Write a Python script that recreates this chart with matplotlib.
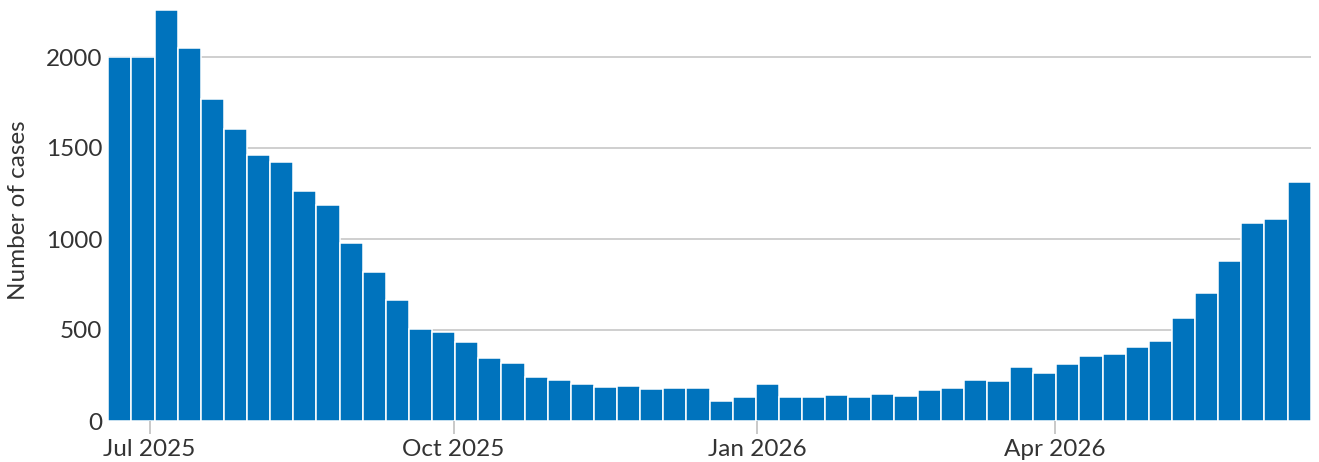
import matplotlib
matplotlib.use("Agg")
import matplotlib.pyplot as plt
import matplotlib.dates as mdates
import numpy as np
import datetime as dt

week_start = "2025-06-22"  # first week (Sunday centre)
cases = [2000, 2000, 2258, 2051, 1769, 1604, 1460, 1421, 1265, 1187,
         976, 817, 667, 507, 487, 432, 346, 319, 244, 223,
         201, 187, 190, 178, 183, 183, 108, 134, 203, 134,
         130, 141, 134, 147, 137, 170, 180, 225, 221, 297,
         264, 313, 355, 370, 408, 441, 564, 702, 881, 1090,
         1110, 1315]
tick_dates = ["2025-07-01", "2025-10-01", "2026-01-01", "2026-04-01"]
tick_labels = ["Jul 2025", "Oct 2025", "Jan 2026", "Apr 2026"]
y_ticks = [0, 500, 1000, 1500, 2000]
y_label = "Number of cases"

plt.rcParams['font.family'] = ['Lato', 'DejaVu Sans']

W, H = 1319, 462
fig = plt.figure(figsize=(W / 100, H / 100), dpi=100)
left_px, right_px, bottom_px, top_px = 108, 1311, 421, 0
ax = fig.add_axes([left_px / W, (H - bottom_px) / H,
                   (right_px - left_px) / W, (bottom_px - top_px) / H])

start = np.datetime64(week_start)
dates = [start + np.timedelta64(7 * i, 'D') for i in range(len(cases))]
x = mdates.date2num([d.astype('datetime64[D]').astype(dt.date) for d in dates])

ax.bar(x, cases, width=7, color='#0073BD', edgecolor='#ffffff',
       linewidth=1.1, zorder=3)

ax.set_xlim(x[0] - 3.6, x[-1] + 3.6)
ax.set_ylim(0, 421 / 0.182)

ax.set_yticks(y_ticks)
ax.set_yticklabels([str(v) for v in y_ticks])
ax.yaxis.grid(True, color='#cfcfcf', linewidth=1.4, zorder=0)
ax.tick_params(axis='y', length=0, pad=4, labelsize=17.5, labelcolor='#333333')

tx = mdates.date2num([dt.date.fromisoformat(d) for d in tick_dates])
ax.set_xticks(tx)
ax.set_xticklabels(tick_labels)
ax.tick_params(axis='x', length=9, width=1.2, color='#c0c0c0', pad=4,
               labelsize=17.5, labelcolor='#333333')

for s in ax.spines.values():
    s.set_visible(False)

ax.set_ylabel(y_label, fontsize=17.5, color='#333333', labelpad=12)

fig.savefig("out.png", dpi=100)
